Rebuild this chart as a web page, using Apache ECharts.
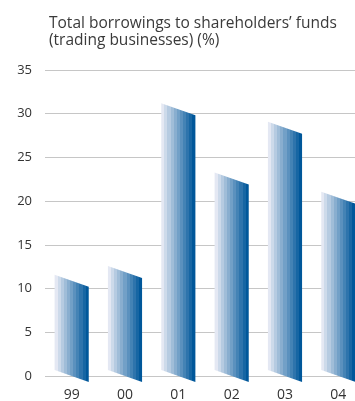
<!DOCTYPE html>
<html>
<head>
<meta charset="utf-8">
<script src="https://cdn.jsdelivr.net/npm/echarts@6/dist/echarts.min.js"></script>
<style>
  html, body { margin: 0; padding: 0; background: #ffffff; }
  #chart { width: 355px; height: 401px; }
</style>
</head>
<body>
<div id="chart"></div>
<script>
// Financial years and gearing ratio (%)
const years = ['99', '00', '01', '02', '03', '04'];
const gearing = [10.9, 11.9, 30.5, 22.6, 28.4, 20.4];
const yTicks = [0, 5, 10, 15, 20, 25, 30, 35];

// Banded fill: light lilac on the left stepping to deep blue on the right
function bandedFill(light, dark, bands) {
  const a = echarts.color.parse(light);
  const b = echarts.color.parse(dark);
  const stops = [];
  for (let i = 0; i < bands; i++) {
    const t = i / (bands - 1);
    const c = 'rgb(' + [0, 1, 2].map(k => Math.round(a[k] + (b[k] - a[k]) * t)).join(',') + ')';
    stops.push({ offset: i / bands, color: c });
    stops.push({ offset: (i + 1) / bands, color: c });
  }
  return new echarts.graphic.LinearGradient(0, 0, 1, 0, stops);
}

const chart = echarts.init(document.getElementById('chart'), null, { renderer: 'canvas' });

chart.setOption({
  animation: false,
  title: {
    text: 'Total borrowings to shareholders\u2019 funds\n(trading businesses) (%)',
    left: 44,
    top: 10,
    textStyle: {
      fontFamily: 'Open Sans',
      fontSize: 15.5,
      fontWeight: 'normal',
      color: '#3a3a3a',
      lineHeight: 17
    }
  },
  grid: {
    left: 45, right: -10, top: 70, bottom: 25,
    containLabel: false,
    outerBoundsMode: 'none'
  },
  xAxis: {
    type: 'category',
    data: years,
    boundaryGap: true,
    axisLine: { show: false },
    axisTick: { show: false },
    axisLabel: {
      margin: 12,
      fontFamily: 'Open Sans',
      fontSize: 14,
      color: '#333333'
    }
  },
  yAxis: {
    type: 'value',
    min: yTicks[0],
    max: yTicks[yTicks.length - 1],
    interval: 5,
    axisLine: { show: false },
    axisTick: { show: false },
    axisLabel: {
      margin: 13,
      fontFamily: 'Open Sans',
      fontSize: 13,
      color: '#333333'
    },
    splitLine: { lineStyle: { color: '#c6c6c6', width: 1 } }
  },
  series: [{
    type: 'custom',
    data: gearing.map((v, i) => [i, v]),
    renderItem: function (params, api) {
      const idx = api.value(0);
      const top = api.coord([idx, api.value(1)]);
      const base = api.coord([idx, 0]);
      const w = api.size([1, 0])[0] * 0.64;
      const slant = 6;
      const x0 = top[0] - w / 2;
      const x1 = top[0] + w / 2;
      return {
        type: 'polygon',
        shape: {
          points: [
            [x0, top[1] - slant],
            [x1, top[1] + slant],
            [x1, base[1] + slant],
            [x0, base[1] - slant]
          ]
        },
        style: { fill: bandedFill('#e4e8f3', '#00579a', 11) }
      };
    }
  }]
});
</script>
</body>
</html>
